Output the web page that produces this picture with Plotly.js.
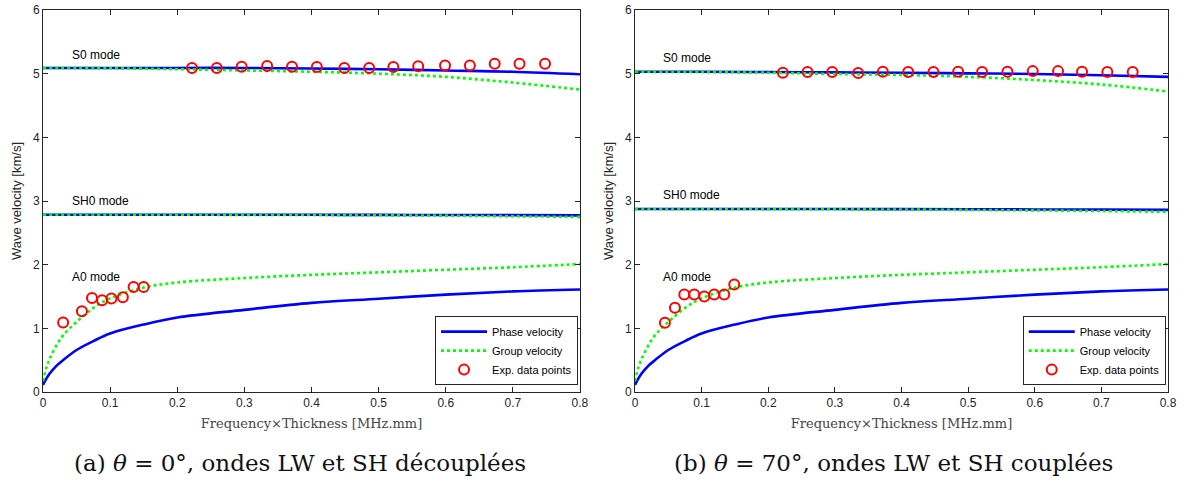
<!DOCTYPE html>
<html>
<head>
<meta charset="utf-8">
<script src="https://cdn.plot.ly/plotly-3.0.1.min.js"></script>
<style>html,body{margin:0;padding:0;background:#fff;}#chart{width:1189px;height:485px;}</style>
</head>
<body>
<div id="chart"></div>
<script>
// ---- Data ----
// Frequency x thickness samples [MHz.mm]
var fdFlat = [0, 0.1, 0.2, 0.3, 0.4, 0.5, 0.6, 0.7, 0.8];
var fdA0 = [0, 0.005, 0.01, 0.02, 0.03, 0.05, 0.075, 0.1, 0.15, 0.2, 0.3, 0.4, 0.5, 0.6, 0.7, 0.8];

// (a) theta = 0 deg
var aS0Phase  = [5.09, 5.09, 5.09, 5.09, 5.08, 5.07, 5.05, 5.03, 4.99];
var aS0Group  = [5.09, 5.085, 5.07, 5.05, 5.03, 5.00, 4.95, 4.86, 4.75];
var aSH0Phase = [2.785, 2.785, 2.785, 2.785, 2.783, 2.782, 2.78, 2.778, 2.775];
var aSH0Group = [2.785, 2.785, 2.784, 2.782, 2.78, 2.776, 2.77, 2.76, 2.75];
var aA0Phase  = [0.11, 0.21, 0.29, 0.41, 0.50, 0.66, 0.80, 0.92, 1.06, 1.17, 1.29, 1.40, 1.465, 1.53, 1.58, 1.61];
var aA0Group  = [0.17, 0.38, 0.52, 0.73, 0.89, 1.10, 1.32, 1.47, 1.64, 1.72, 1.79, 1.84, 1.88, 1.92, 1.96, 2.01];
var aExpX = [0.030, 0.058, 0.073, 0.088, 0.102, 0.119, 0.135, 0.150,
             0.222, 0.259, 0.296, 0.334, 0.371, 0.408, 0.449, 0.486, 0.522, 0.559, 0.599, 0.636, 0.673, 0.710, 0.748];
var aExpY = [1.09, 1.27, 1.475, 1.44, 1.47, 1.49, 1.65, 1.65,
             5.09, 5.09, 5.11, 5.12, 5.11, 5.105, 5.09, 5.09, 5.105, 5.115, 5.13, 5.13, 5.155, 5.155, 5.155];

// (b) theta = 70 deg
var bS0Phase  = [5.03, 5.03, 5.025, 5.02, 5.015, 5.005, 4.995, 4.975, 4.95];
var bS0Group  = [5.03, 5.025, 5.015, 4.995, 4.98, 4.95, 4.90, 4.83, 4.72];
var bSH0Phase = [2.875, 2.875, 2.875, 2.874, 2.872, 2.87, 2.867, 2.864, 2.86];
var bSH0Group = [2.875, 2.875, 2.873, 2.87, 2.866, 2.86, 2.852, 2.842, 2.83];
var bA0Phase  = [0.11, 0.21, 0.29, 0.41, 0.50, 0.66, 0.80, 0.92, 1.06, 1.17, 1.29, 1.40, 1.465, 1.53, 1.58, 1.61];
var bA0Group  = [0.17, 0.38, 0.52, 0.73, 0.89, 1.10, 1.32, 1.47, 1.64, 1.72, 1.79, 1.84, 1.88, 1.92, 1.96, 2.01];
var bExpX = [0.045, 0.060, 0.074, 0.089, 0.104, 0.119, 0.134, 0.149,
             0.222, 0.259, 0.296, 0.335, 0.372, 0.410, 0.448, 0.485, 0.521, 0.559, 0.597, 0.635, 0.671, 0.709, 0.747];
var bExpY = [1.086, 1.325, 1.53, 1.53, 1.50, 1.53, 1.53, 1.69,
             5.016, 5.026, 5.026, 5.01, 5.03, 5.026, 5.026, 5.03, 5.026, 5.03, 5.04, 5.04, 5.03, 5.026, 5.026];

var modeLabels = ['S0 mode', 'SH0 mode', 'A0 mode'];
var aLabelY = [5.29, 3.0, 1.81];
var bLabelY = [5.25, 3.09, 1.81];
var legendNames = ['Phase velocity', 'Group velocity', 'Exp. data points'];
var captions = ['(a) <i>θ</i> = 0°, ondes LW et SH découplées', '(b) <i>θ</i> = 70°, ondes LW et SH couplées'];

// ---- Styles ----
var BLUE = '#0000ff', GREEN = '#00ff00', RED = '#ff0000', AX = '#262626';
var SANS = 'Liberation Sans, Arial, sans-serif';
var SERIF = 'DejaVu Serif, serif';

function phaseTrace(x, y, xa, ya, lg, show) {
  return {x: x, y: y, xaxis: xa, yaxis: ya, type: 'scatter', mode: 'lines', name: legendNames[0],
    line: {color: BLUE, width: 2.6, shape: 'spline'}, legend: lg, showlegend: show, legendgroup: lg + 'p', hoverinfo: 'skip'};
}
function groupTrace(x, y, xa, ya, lg, show) {
  return {x: x, y: y, xaxis: xa, yaxis: ya, type: 'scatter', mode: 'lines', name: legendNames[1],
    line: {color: GREEN, width: 2.6, dash: 'dot', shape: 'spline'}, legend: lg, showlegend: show, legendgroup: lg + 'g', hoverinfo: 'skip'};
}
function expTrace(x, y, xa, ya, lg) {
  return {x: x, y: y, xaxis: xa, yaxis: ya, type: 'scatter', mode: 'markers', name: legendNames[2],
    marker: {symbol: 'circle-open', color: RED, size: 10, line: {width: 2, color: RED}}, legend: lg, showlegend: true, hoverinfo: 'skip'};
}

var traces = [
  phaseTrace(fdA0, aA0Phase, 'x', 'y', 'legend', true),
  phaseTrace(fdFlat, aS0Phase, 'x', 'y', 'legend', false),
  phaseTrace(fdFlat, aSH0Phase, 'x', 'y', 'legend', false),
  groupTrace(fdA0, aA0Group, 'x', 'y', 'legend', true),
  groupTrace(fdFlat, aS0Group, 'x', 'y', 'legend', false),
  groupTrace(fdFlat, aSH0Group, 'x', 'y', 'legend', false),
  expTrace(aExpX, aExpY, 'x', 'y', 'legend'),
  phaseTrace(fdA0, bA0Phase, 'x2', 'y2', 'legend2', true),
  phaseTrace(fdFlat, bS0Phase, 'x2', 'y2', 'legend2', false),
  phaseTrace(fdFlat, bSH0Phase, 'x2', 'y2', 'legend2', false),
  groupTrace(fdA0, bA0Group, 'x2', 'y2', 'legend2', true),
  groupTrace(fdFlat, bS0Group, 'x2', 'y2', 'legend2', false),
  groupTrace(fdFlat, bSH0Group, 'x2', 'y2', 'legend2', false),
  expTrace(bExpX, bExpY, 'x2', 'y2', 'legend2')
];

function xAxis(domain, anchor) {
  return {domain: domain, anchor: anchor, range: [0, 0.8], dtick: 0.1, tick0: 0,
    ticks: 'inside', ticklen: 5, tickcolor: AX, tickwidth: 1, mirror: 'ticks', showline: true,
    linecolor: AX, linewidth: 1, showgrid: false, zeroline: false,
    tickfont: {family: SANS, size: 12, color: AX},
    title: {text: 'Frequency×Thickness [MHz.mm]', font: {family: SERIF, size: 13, color: '#444'}, standoff: 9}};
}
function yAxis(anchor) {
  return {domain: [0, 1], anchor: anchor, range: [0, 6], dtick: 1, tick0: 0,
    ticks: 'inside', ticklen: 5, tickcolor: AX, tickwidth: 1, mirror: 'ticks', showline: true,
    linecolor: AX, linewidth: 1, showgrid: false, zeroline: false,
    tickfont: {family: SANS, size: 12, color: AX},
    title: {text: 'Wave velocity [km/s]', font: {family: SANS, size: 13, color: AX}, standoff: 8}};
}

var annotations = [];
modeLabels.forEach(function (t, i) {
  annotations.push({text: t, xref: 'x', yref: 'y', x: 0.04, y: aLabelY[i], xanchor: 'left', yanchor: 'middle',
    showarrow: false, font: {family: SANS, size: 12, color: '#000'}});
  annotations.push({text: t, xref: 'x2', yref: 'y2', x: 0.039, y: bLabelY[i], xanchor: 'left', yanchor: 'middle',
    showarrow: false, font: {family: SANS, size: 12, color: '#000'}});
});
annotations.push({text: captions[0], xref: 'paper', yref: 'paper', x: 0.228, y: -0.186, xanchor: 'center', yanchor: 'middle',
  showarrow: false, font: {family: SERIF, size: 23, color: '#111'}});
annotations.push({text: captions[1], xref: 'paper', yref: 'paper', x: 0.756, y: -0.186, xanchor: 'center', yanchor: 'middle',
  showarrow: false, font: {family: SERIF, size: 23, color: '#111'}});

function legendCfg(xr) {
  return {x: xr, y: 0.018, xanchor: 'right', yanchor: 'bottom', bgcolor: '#fff', bordercolor: AX, borderwidth: 1,
    font: {family: SANS, size: 11, color: '#000'}, itemwidth: 46, tracegroupgap: 0, traceorder: 'normal'};
}

var layout = {
  width: 1189, height: 485,
  margin: {l: 43, r: 21, t: 10, b: 93},
  paper_bgcolor: '#fff', plot_bgcolor: '#fff',
  xaxis: xAxis([0, 0.4773], 'y'),
  yaxis: yAxis('x'),
  xaxis2: xAxis([0.5262, 1], 'y2'),
  yaxis2: yAxis('x2'),
  legend: legendCfg(0.4756),
  legend2: legendCfg(0.998),
  annotations: annotations,
  showlegend: true
};

Plotly.newPlot('chart', traces, layout, {displayModeBar: false, staticPlot: true});
</script>
</body>
</html>
